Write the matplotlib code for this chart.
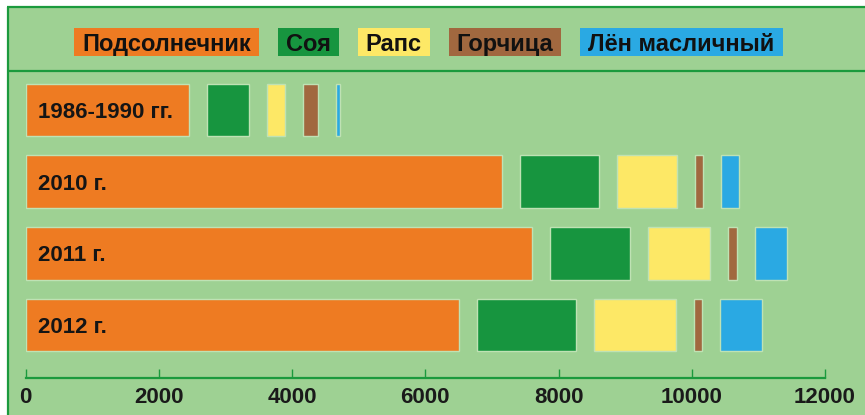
import matplotlib
matplotlib.use("Agg")
import matplotlib.pyplot as plt
from matplotlib import font_manager as fm
from matplotlib.patches import Rectangle

# ---------------- data ----------------
periods = ["1986-1990 гг.", "2010 г.", "2011 г.", "2012 г."]
crops = ["Подсолнечник", "Соя", "Рапс", "Горчица", "Лён масличный"]
sunflower = [2450, 7150, 7595, 6510]
soy = [635, 1190, 1210, 1475]
rapeseed = [275, 895, 925, 1235]
mustard = [220, 125, 135, 120]
flax = [60, 275, 490, 630]
x_ticks = [0, 2000, 4000, 6000, 8000, 10000, 12000]

series = [sunflower, soy, rapeseed, mustard, flax]
colors = ["#ee7b22", "#17953f", "#fde866", "#a1683f", "#2aa9e3"]
GAP = 270  # spacing between segments (axis units)

BG = "#9ed193"
FRAME = "#1b9a3d"

names = {f.name for f in fm.fontManager.ttflist}
NARROW = "Liberation Sans Narrow" if "Liberation Sans Narrow" in names else "Liberation Sans"
LEG_SIZE = 20 if NARROW == "Liberation Sans Narrow" else 17

W, H = 865, 415
fig = plt.figure(figsize=(W / 100, H / 100), dpi=100, facecolor="white")

# background / decoration axes in pixel coords
bg = fig.add_axes([0, 0, 1, 1], zorder=0)
bg.set_xlim(0, W)
bg.set_ylim(H, 0)
bg.axis("off")
bg.add_patch(Rectangle((7, 7), W, H, facecolor=BG, edgecolor="none"))
bg.plot([7, W], [7.5, 7.5], color=FRAME, lw=1.6, solid_capstyle="butt")
bg.plot([7.5, 7.5], [7, H], color=FRAME, lw=1.6, solid_capstyle="butt")
bg.plot([7, W], [71, 71], color=FRAME, lw=1.6, solid_capstyle="butt")

# legend: coloured boxes with text
renderer = fig.canvas.get_renderer()
x = 74
pad = 8
for name, col in zip(crops, colors):
    t = bg.text(x + pad, 42, name, fontsize=LEG_SIZE, fontweight="bold",
                family=[NARROW, "DejaVu Sans"], color="#111111",
                ha="left", va="center_baseline", zorder=3)
    ext = t.get_window_extent(renderer)
    wpx = ext.width
    bg.add_patch(Rectangle((x, 28), wpx + 2 * pad, 28, facecolor=col,
                           edgecolor="none", zorder=2))
    x = x + wpx + 2 * pad + 19

# data axes
left_px, right_px = 25.7, 825.0
top_px, bottom_px = 75.0, 377.7
ax = fig.add_axes([left_px / W, 1 - bottom_px / H,
                   (right_px - left_px) / W, (bottom_px - top_px) / H], zorder=1)
ax.set_facecolor("none")

row_px = 71.7
first_center = 110.0
n_rows = (bottom_px - top_px) / row_px
y_top = -(first_center - top_px) / row_px
ax.set_ylim(y_top + n_rows, y_top)
ax.set_xlim(x_ticks[0], x_ticks[-1])

bar_h = 52.5 / row_px
for i in range(len(periods)):
    left = 0
    for vals, col in zip(series, colors):
        ax.barh(i, vals[i], left=left, height=bar_h, color=col,
                edgecolor="#bfe2b4", linewidth=1.0)
        left += vals[i] + GAP
    ax.annotate(periods[i], xy=(0, i), xytext=(8.5, 0), textcoords="offset points",
                ha="left", va="center_baseline", fontsize=16, fontweight="bold",
                family=["Liberation Sans", "DejaVu Sans"], color="#151515")

for s in ["top", "right", "left"]:
    ax.spines[s].set_visible(False)
ax.spines["bottom"].set_color(FRAME)
ax.spines["bottom"].set_linewidth(1.6)
ax.set_yticks([])
ax.set_xticks(x_ticks)
ax.set_xticklabels([str(v) for v in x_ticks], fontsize=16, fontweight="bold",
                   family=["Liberation Sans", "DejaVu Sans"], color="#1a1a1a")
ax.tick_params(axis="x", direction="in", length=6.5, width=1.0, color=FRAME, pad=7)

fig.savefig("out.png", dpi=100, facecolor="white")
